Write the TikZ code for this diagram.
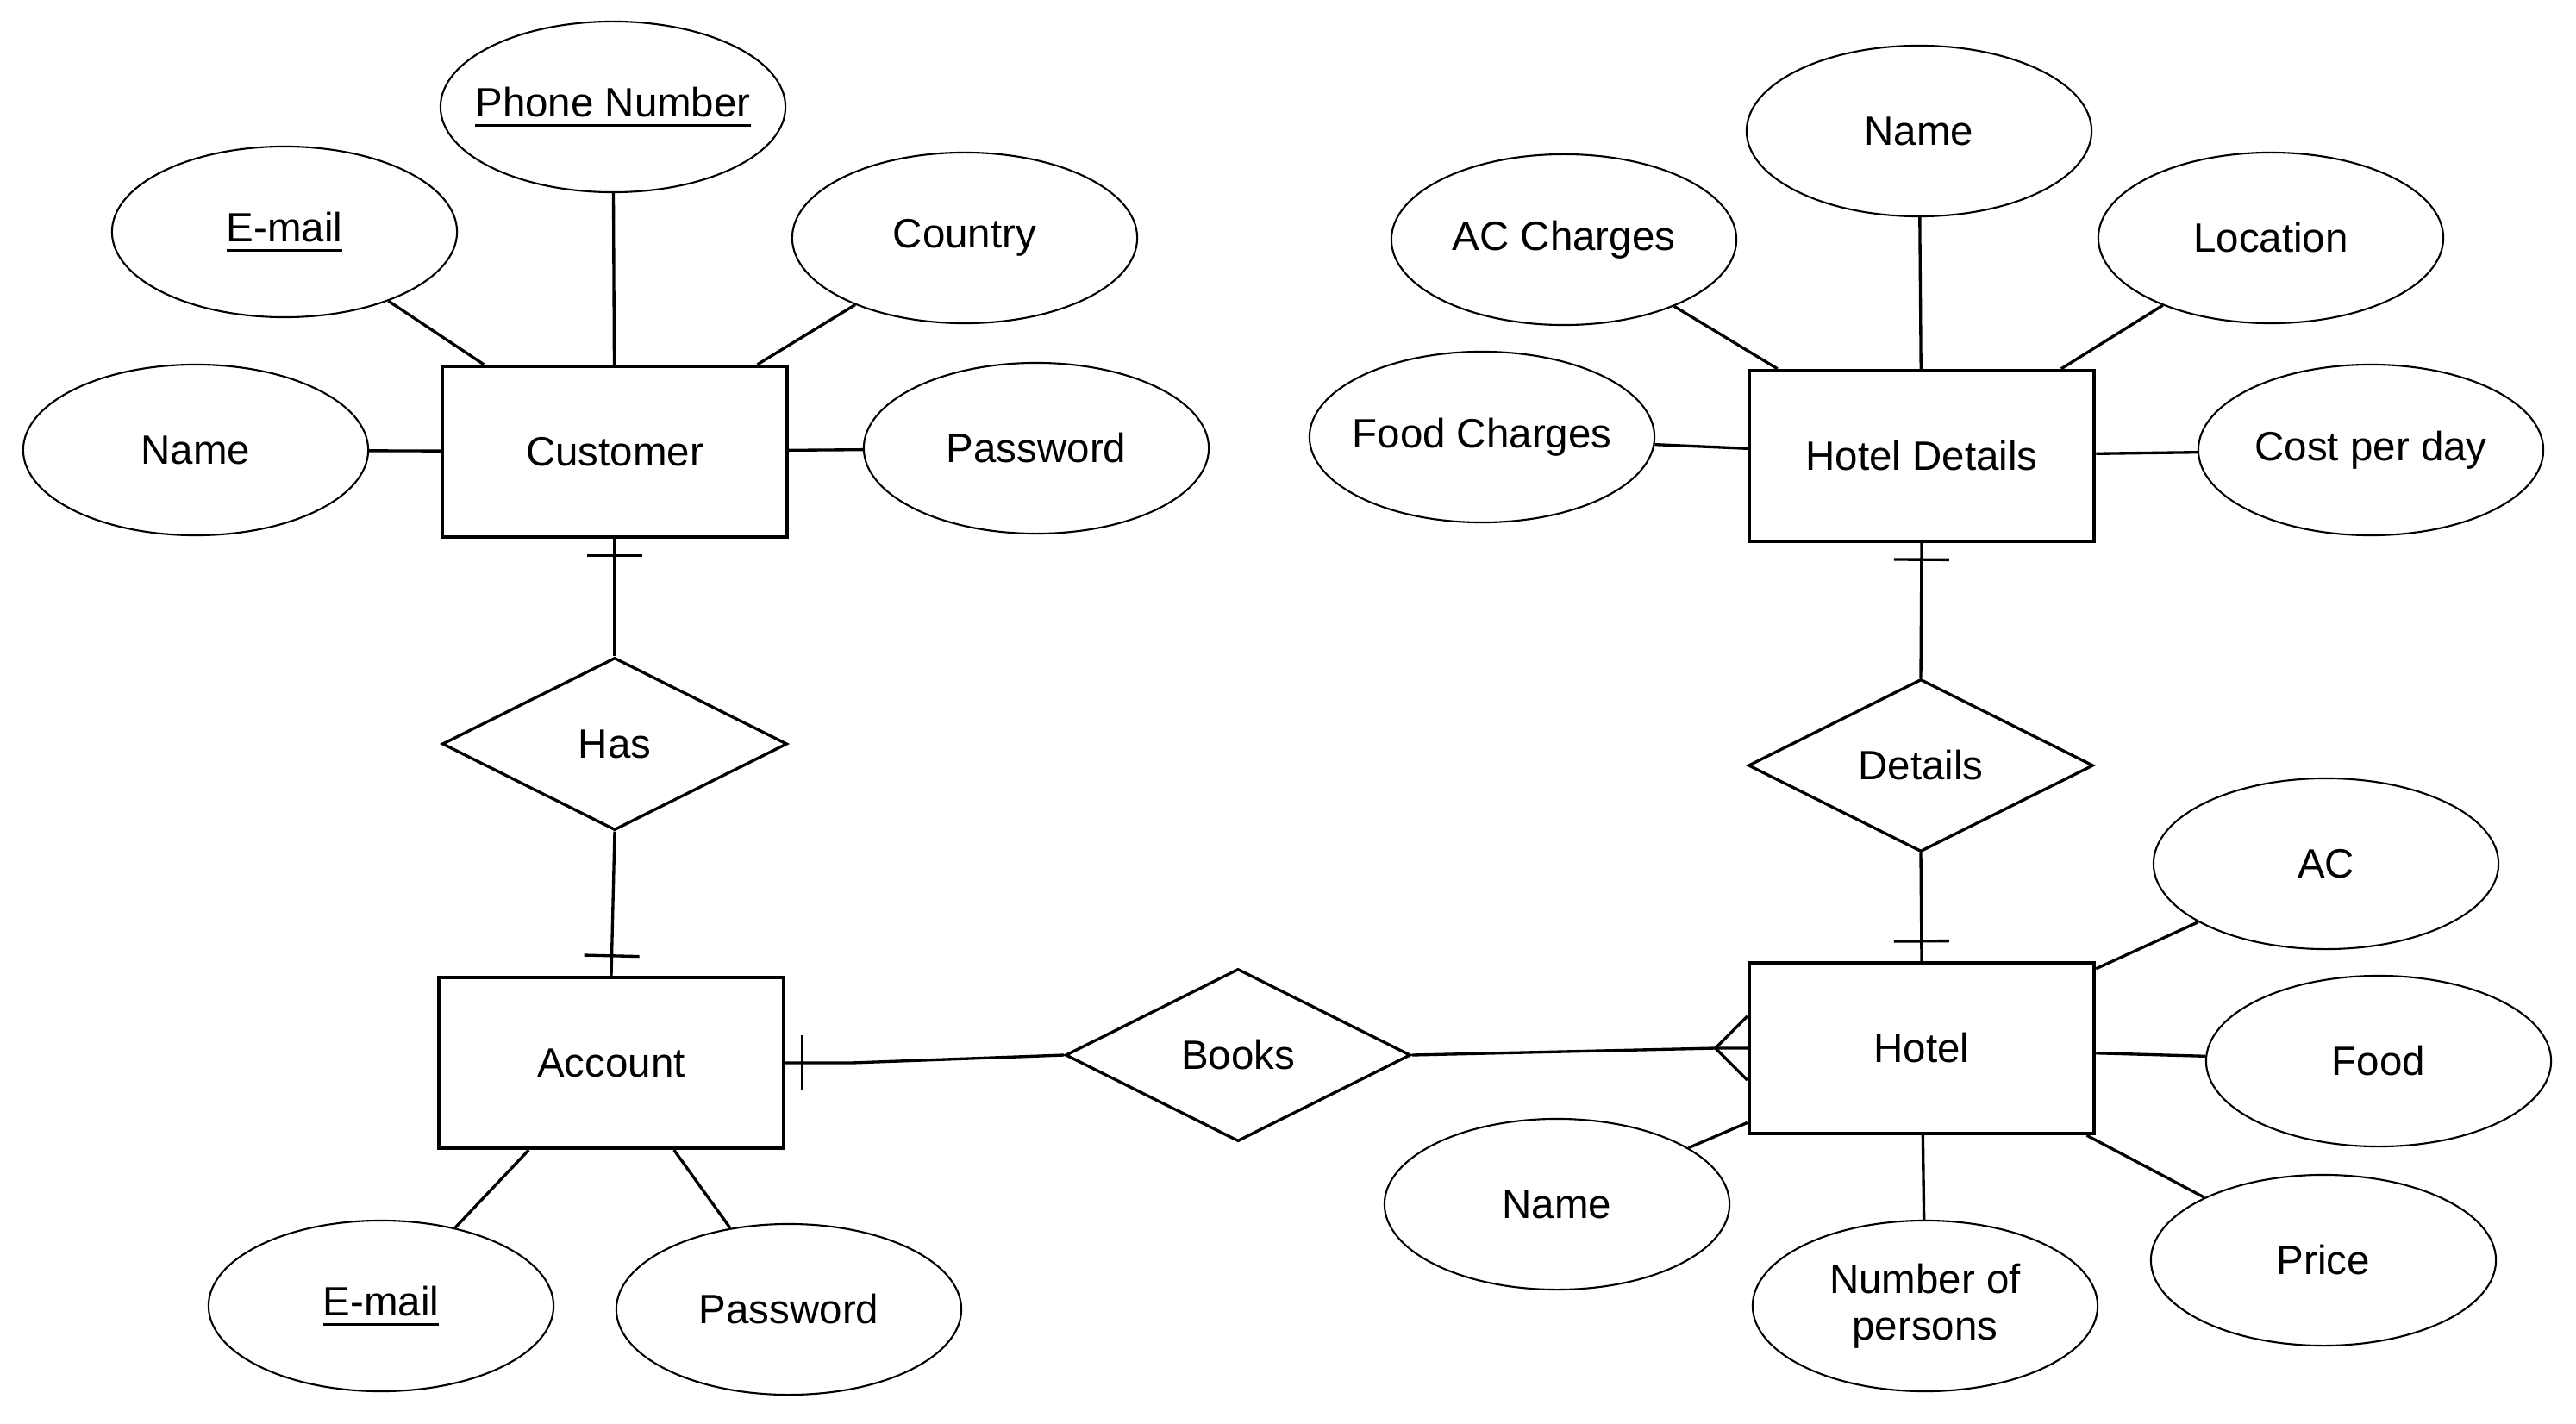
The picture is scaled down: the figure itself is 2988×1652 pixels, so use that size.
\documentclass[tikz,border=0pt]{standalone}
\usepackage{fontspec}
\setmainfont{Liberation Sans}
\usetikzlibrary{shapes.geometric,decorations.markings}
\newcommand\keyul[1]{\setbox0\hbox{#1}\rlap{\vrule width\wd0 height -2.4pt depth 3.4pt}\box0}
\newcommand\fitin[1]{\makebox[0pt][c]{#1}}
\tikzset{
  attrbox/.style={ellipse,draw,line width=0.6pt,minimum width=4cm,minimum height=1.98cm,inner sep=0pt,align=center},
  entbox/.style={rectangle,draw,line width=1.2pt,minimum width=4cm,minimum height=1.98cm,inner sep=0pt},
  relbox/.style={diamond,draw,line width=0.95pt,minimum width=4cm,minimum height=2cm,inner sep=0pt,shape aspect=2},
  conn/.style={line width=0.95pt},
  barat/.style={postaction={decorate,decoration={markings,mark=at position #1 with {\draw[line width=0.95pt] (0,-0.32cm) -- (0,0.32cm);}}}}
}
\begin{document}
\begin{tikzpicture}[x=0.01cm,y=-0.01cm,font=\fontsize{13.5pt}{15.5pt}\selectfont]
\useasboundingbox (0,0) rectangle (2988,1652);
% entities
\node[entbox] (customer) at (713,524) {Customer};
\node[entbox] (account) at (709,1233) {Account};
\node[entbox] (hotel) at (2229,1216) {Hotel};
\node[entbox] (hoteldetails) at (2229,529) {Hotel Details};
% relationships
\node[relbox] (has) at (713,863) {Has};
\node[relbox] (books) at (1436,1224) {Books};
\node[relbox] (details) at (2228,888) {Details};
% customer attributes
\node[attrbox] (cname) at (227,522) {Name};
\node[attrbox] (cemail) at (330,269) {\keyul{E-mail}};
\node[attrbox] (cphone) at (711,124) {\fitin{\keyul{Phone Number}}};
\node[attrbox] (ccountry) at (1119,276) {Country};
\node[attrbox] (cpass) at (1202,520) {Password};
% account attributes
\node[attrbox] (aemail) at (442,1515) {\keyul{E-mail}};
\node[attrbox] (apass) at (915,1519) {Password};
% hotel details attributes
\node[attrbox] (hdac) at (1814,278) {\fitin{AC Charges}};
\node[attrbox] (hdname) at (2226,152) {Name};
\node[attrbox] (hdloc) at (2634,276) {Location};
\node[attrbox] (hdfood) at (1719,507) {\fitin{Food Charges}};
\node[attrbox] (hdcost) at (2750,522) {\fitin{Cost per day}};
% hotel attributes
\node[attrbox] (hac) at (2698,1002) {AC};
\node[attrbox] (hfood) at (2759,1231) {Food};
\node[attrbox] (hprice) at (2695,1462) {Price};
\node[attrbox] (hpersons) at (2233,1515) {Number of\\persons};
\node[attrbox] (hname) at (1806,1397) {Name};
% attribute links
\foreach \a/\e in {cname/customer,cemail/customer,cphone/customer,ccountry/customer,cpass/customer,
  aemail/account,apass/account,
  hdac/hoteldetails,hdname/hoteldetails,hdloc/hoteldetails,hdfood/hoteldetails,hdcost/hoteldetails,
  hac/hotel,hfood/hotel,hprice/hotel,hpersons/hotel,hname/hotel}
  \draw[conn] (\a) -- (\e);
% relationship links
\draw[conn,barat=0.19cm] (customer.south) -- (has.north);
\draw[conn,barat=-0.23cm] (has.south) -- (account.north);
\draw[conn,barat=0.19cm] (hoteldetails.south) -- (details.north);
\draw[conn,barat=-0.23cm] (details.south) -- (hotel.north);
\draw[conn,barat=0.19cm] (account.east) -- ++(77,0) -- (books.west);
\draw[conn] (books.east) -- ([xshift=-0.37cm]hotel.west) -- (hotel.west);
\draw[conn] ([yshift=0.37cm]hotel.west) -- ([xshift=-0.37cm]hotel.west) -- ([yshift=-0.37cm]hotel.west);
\end{tikzpicture}
\end{document}
